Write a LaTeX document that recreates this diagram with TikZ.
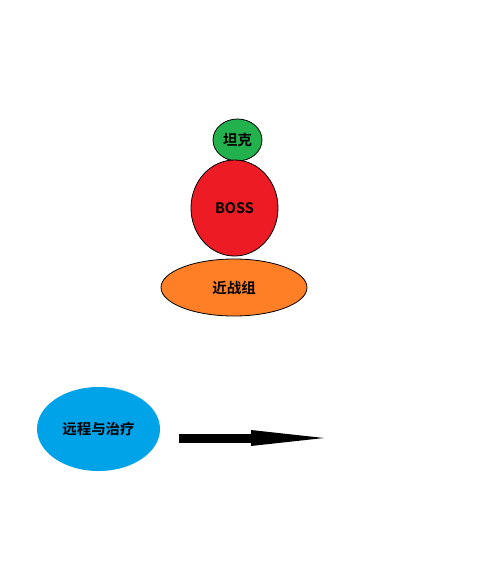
\documentclass[tikz,border=0pt]{standalone}
\usepackage{fontspec}
\newfontfamily\cjk{Noto Sans CJK SC}[BoldFont={* Bold}]
\usepackage{tikz}
\usetikzlibrary{arrows.meta, shapes.geometric}
\definecolor{tankgreen}{RGB}{34,177,76}
\definecolor{bossred}{RGB}{237,28,36}
\definecolor{meleeorange}{RGB}{255,127,39}
\definecolor{rangeblue}{RGB}{0,162,232}

\begin{document}
\begin{tikzpicture}[
  x=1pt, y=-1pt,
  blob/.style={ellipse, draw=black, line width=0.8pt, inner sep=0pt,
               font=\cjk\bfseries\fontsize{14.5}{16}\selectfont},
  move/.style={line width=9pt, draw=black,
               -{Triangle[length=73pt, width=16pt, line width=0pt]}}]

  \useasboundingbox (0,0) rectangle (496,579);

  % --- the boss and the units stacked round it
  \node[blob, fill=tankgreen, minimum width=49pt, minimum height=42pt]
    (tank) at (237.5,140) {坦克};
  \node[blob, fill=bossred, minimum width=87pt, minimum height=96pt]
    (boss) at (234.5,208) {BOSS};
  \node[blob, fill=meleeorange, minimum width=146pt, minimum height=57pt]
    (melee) at (234,287.5) {近战组};

  % --- ranged group moving in
  \node[blob, draw=none, fill=rangeblue, minimum width=123pt, minimum height=84pt]
    (range) at (98.5,429) {远程与治疗};
  \coordinate (tail) at (179,438);
  \coordinate (head) at (324,438);
  \draw[move] (tail) -- (head);
\end{tikzpicture}
\end{document}
